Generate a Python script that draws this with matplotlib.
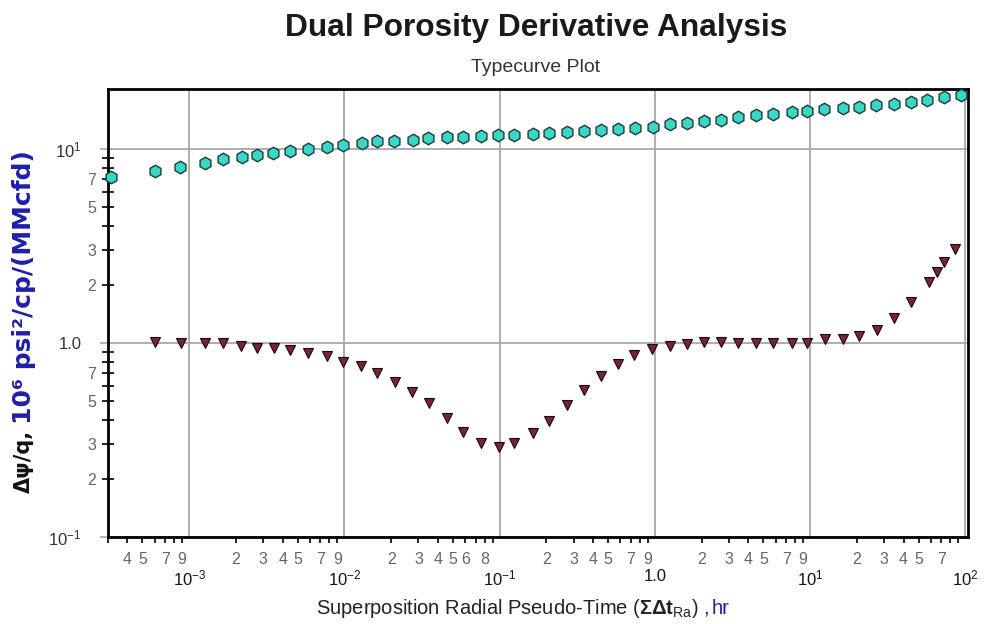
import matplotlib
matplotlib.use('Agg')
import matplotlib.pyplot as plt
import numpy as np
from matplotlib.ticker import FixedLocator, FixedFormatter, FuncFormatter

plt.rcParams['font.family'] = ['Liberation Sans', 'DejaVu Sans']
plt.rcParams['mathtext.fontset'] = 'custom'
plt.rcParams['mathtext.rm'] = 'Liberation Sans'
plt.rcParams['mathtext.it'] = 'Liberation Sans:italic'
plt.rcParams['mathtext.bf'] = 'Liberation Sans:bold'
plt.rcParams['mathtext.default'] = 'regular'

# Normalized pseudo-pressure (cyan) vs superposition time
time_psi = [3.14e-4, 6.05e-4, 8.75e-4, 1.27e-3, 1.65e-3, 2.18e-3, 2.72e-3, 3.47e-3,
            4.46e-3, 5.82e-3, 7.71e-3, 9.77e-3, 1.29e-2, 1.62e-2, 2.08e-2, 2.75e-2,
            3.48e-2, 4.55e-2, 5.85e-2, 7.64e-2, 9.81e-2, 0.124, 0.163, 0.209,
            0.272, 0.351, 0.449, 0.579, 0.746, 0.973, 1.26, 1.61, 2.07, 2.65,
            3.43, 4.47, 5.75, 7.59, 9.51, 12.2, 16.2, 20.5, 26.4, 34.5, 44.8,
            57.0, 73.3, 94.3]
psi_q = [7.2, 7.73, 8.05, 8.5, 8.85, 9.06, 9.31, 9.57, 9.8, 10.0, 10.3, 10.5,
         10.8, 11.0, 11.0, 11.2, 11.4, 11.5, 11.6, 11.7, 11.8, 11.85, 11.95,
         12.1, 12.25, 12.4, 12.55, 12.7, 12.85, 13.0, 13.4, 13.7, 13.9, 14.2,
         14.6, 15.0, 15.2, 15.5, 15.7, 16.0, 16.3, 16.5, 16.8, 17.1, 17.5,
         18.0, 18.6, 19.0]

# Derivative (dark red)
time_deriv = [6.05e-4, 8.84e-4, 1.27e-3, 1.65e-3, 2.15e-3, 2.72e-3, 3.53e-3, 4.46e-3,
              5.84e-3, 7.67e-3, 9.81e-3, 1.27e-2, 1.62e-2, 2.11e-2, 2.74e-2, 3.50e-2,
              4.57e-2, 5.85e-2, 7.60e-2, 9.87e-2, 0.124, 0.163, 0.209, 0.273,
              0.351, 0.451, 0.579, 0.735, 0.964, 1.26, 1.62, 2.07, 2.65, 3.44,
              4.49, 5.75, 7.59, 9.55, 12.4, 16.2, 20.5, 26.9, 34.5, 44.8, 58.5,
              65.4, 73.3, 85.9]
deriv = [1.015, 0.997, 0.997, 0.997, 0.968, 0.946, 0.946, 0.920, 0.885, 0.857,
         0.801, 0.764, 0.698, 0.632, 0.561, 0.489, 0.412, 0.349, 0.304, 0.292,
         0.304, 0.343, 0.396, 0.479, 0.573, 0.676, 0.780, 0.867, 0.928, 0.965,
         0.988, 1.015, 1.015, 1.003, 1.003, 1.003, 1.003, 1.003, 1.045, 1.045,
         1.087, 1.167, 1.34, 1.63, 2.07, 2.33, 2.62, 3.04]

x_major = [1e-3, 1e-2, 1e-1, 1.0, 1e1, 1e2]
x_major_labels = [r'$10^{-3}$', r'$10^{-2}$', r'$10^{-1}$', '1.0', r'$10^{1}$', r'$10^{2}$']
y_major = [0.1, 1.0, 10.0]
y_major_labels = [r'$10^{-1}$', '1.0', r'$10^{1}$']
# labelled minor mantissas per decade (as printed on the original)
x_minor_shown = {-4: [4, 5, 7, 9], -3: [2, 3, 4, 5, 7, 9], -2: [2, 3, 4, 5, 6, 8],
                 -1: [2, 3, 4, 5, 7, 9], 0: [2, 3, 4, 5, 7, 9], 1: [2, 3, 4, 5, 7]}
y_minor_shown = [2, 3, 5, 7]

XMIN, XMAX = 3.0e-4, 104.0
YMIN, YMAX = 0.1, 20.4

BLUE = '#1e1eaa'


def minor_positions(lo, hi):
    vals = []
    for d in range(int(np.floor(np.log10(lo))), int(np.ceil(np.log10(hi)))):
        for m in range(2, 10):
            v = m * 10.0 ** d
            if lo < v < hi * 0.97:
                vals.append(v)
    return vals


def split(v):
    d = int(np.floor(np.log10(v) + 1e-9))
    return d, int(round(v / 10.0 ** d))


def x_minor_fmt(v, pos):
    d, m = split(v)
    return str(m) if m in x_minor_shown.get(d, []) else ''


def y_minor_fmt(v, pos):
    d, m = split(v)
    return str(m) if m in y_minor_shown else ''


fig = plt.figure(figsize=(9.84, 6.24), dpi=100)
ax = fig.add_axes([108 / 984, 1 - 537 / 624, 860 / 984, 448 / 624])

ax.set_xscale('log')
ax.set_yscale('log')
ax.set_xlim(XMIN, XMAX)
ax.set_ylim(YMIN, YMAX)

ax.plot(time_psi, psi_q, linestyle='none', marker='h', markersize=9,
        markerfacecolor='#3ad6c6', markeredgecolor='#1d3a3a', markeredgewidth=1.0,
        clip_on=False, zorder=3)
ax.plot(time_deriv, deriv, linestyle='none', marker='v', markersize=6.5,
        markerfacecolor='#7a2430', markeredgecolor='#1a0808', markeredgewidth=0.8,
        clip_on=False, zorder=3)

# ticks
ax.xaxis.set_major_locator(FixedLocator(x_major))
ax.xaxis.set_major_formatter(FixedFormatter(x_major_labels))
ax.xaxis.set_minor_locator(FixedLocator(minor_positions(XMIN, XMAX)))
ax.xaxis.set_minor_formatter(FuncFormatter(x_minor_fmt))
ax.yaxis.set_major_locator(FixedLocator(y_major))
ax.yaxis.set_major_formatter(FixedFormatter(y_major_labels))
ax.yaxis.set_minor_locator(FixedLocator(minor_positions(YMIN, YMAX)))
ax.yaxis.set_minor_formatter(FuncFormatter(y_minor_fmt))

ax.tick_params(axis='x', which='major', length=0, pad=23, labelsize=12,
               labelcolor='#151515')
ax.tick_params(axis='x', which='minor', direction='out', length=4.5, width=1.2,
               pad=6, labelsize=11.5, labelcolor='#666666', color='black')
ax.tick_params(axis='y', which='major', direction='out', length=6, width=1.2,
               color='#a8a8a8', pad=13, labelsize=12, labelcolor='#333333')
ax.tick_params(axis='y', which='minor', direction='inout', length=9, width=1.2,
               pad=4, labelsize=11.5, labelcolor='#666666', color='black')

ax.grid(which='major', color='#a8a8a8', linewidth=1.3)
ax.set_axisbelow(True)
for s in ax.spines.values():
    s.set_linewidth(2.0)
    s.set_color('black')

# titles
fig.text(536 / 984, 1 - 28 / 624, 'Dual Porosity Derivative Analysis',
         ha='center', va='center', fontsize=22.8, fontweight='bold', color='#1a1a1a')
fig.text(536 / 984, 1 - 68 / 624, 'Typecurve Plot', ha='center', va='center',
         fontsize=14, color='#333333')

fig.canvas.draw()
renderer = fig.canvas.get_renderer()
W, H = fig.bbox.width, fig.bbox.height

# x label: black part then blue units
xl = fig.text(316 / W, 15 / H,
              r'Superposition Radial Pseudo-Time ($\mathbf{\Sigma\Delta t}_{Ra}$) , ',
              ha='left', va='center', fontsize=14.5, color='#222222')
bb = xl.get_window_extent(renderer)
fig.text(bb.x1 / W, 15 / H, 'hr', ha='left', va='center', fontsize=14.5, color=BLUE)

# y label: black part at bottom, blue units above
yl = fig.text(24 / W, (624 - 493) / H, 'Δψ/q,', rotation=90, ha='center',
              va='bottom', fontsize=15, fontweight='bold', color='#111111',
              family='DejaVu Sans')
bb = yl.get_window_extent(renderer)
fig.text(24 / W, (bb.y1 + 6) / H, '10⁶ psi²/cp/(MMcfd)', rotation=90, ha='center',
         va='bottom', fontsize=18, fontweight='bold', color=BLUE,
         family='DejaVu Sans')

fig.savefig('out.png', dpi=100, facecolor='white')
plt.close(fig)
